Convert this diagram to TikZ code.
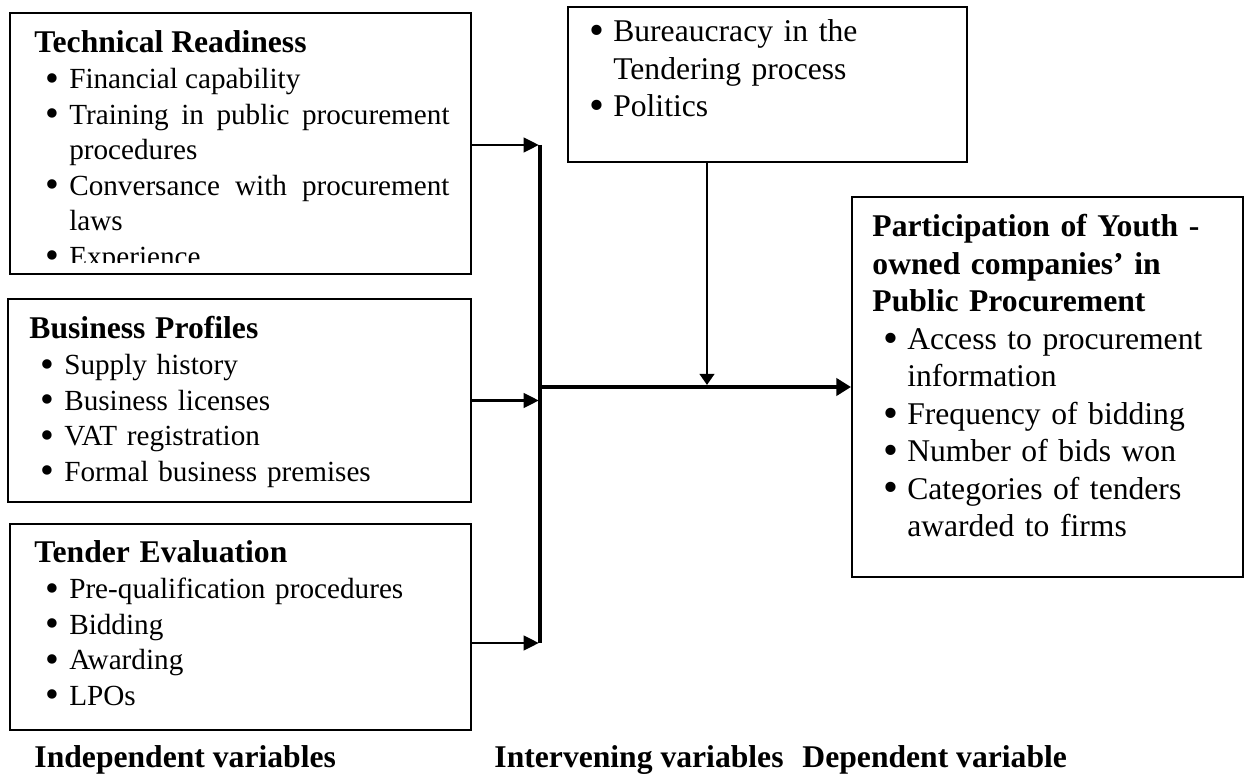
\documentclass[tikz,border=0pt]{standalone}
\usepackage{fontspec}
\setmainfont{Liberation Serif}
\usepackage{graphicx}
\usepackage{tikz}
\usetikzlibrary{arrows.meta, positioning, fit}

\newlength{\itemhang}\setlength{\itemhang}{14.3pt}
\newlength{\bulletgap}\setlength{\bulletgap}{4.6pt}
\newcommand{\dotmark}{\smash{\raisebox{-1.1pt}{\scalebox{1.35}{\textbullet}}}}
\newcommand{\bitem}[1]{\hangindent=\itemhang\hangafter=1%
  \hspace*{\bulletgap}\makebox[\dimexpr\itemhang-\bulletgap\relax][l]{\dotmark}#1\par}
\newcommand{\boxhead}[1]{{\fontsize{13}{15.4}\selectfont\bfseries #1\par}}

\begin{document}
\begin{tikzpicture}[x=0.411pt, y=-0.411pt,
    panel/.style={rectangle, draw, line width=0.8pt, inner sep=0pt},
    body/.style={anchor=base west, inner sep=0pt, align=left, font=\fontsize{12}{14.6}\selectfont},
    big/.style={body, font=\fontsize{13}{15.4}\selectfont},
    feed/.style={-{Triangle[length=6.2pt, width=6pt]}, line width=0.85pt, shorten >=0.5pt},
    trunk/.style={line width=1.4pt},
    flow/.style={-{Triangle[length=6pt, width=7pt]}, line width=2pt},
    push/.style={-{Triangle[length=4.6pt, width=6pt]}, line width=1.1pt},
    footer/.style={anchor=base west, inner sep=0pt, font=\fontsize{13}{15.4}\selectfont\bfseries}
  ]
    \useasboundingbox (0,0) rectangle (1245,775);

    % independent variables
    \node[panel, fit={(10,13) (471,274)}]  (tech)   {};
    \node[panel, fit={(8,299) (471,502)}]  (bus)    {};
    \node[panel, fit={(10,524) (471,730)}] (tender) {};

    \begin{scope}
      \clip (10,13) rectangle (471,263);
      \node[body, align=justify, text width=170.6pt] (techtxt) at (34,53) {%
        \boxhead{Technical Readiness}%
        \bitem{Financial capability}%
        \bitem{Training in public procurement\linebreak procedures}%
        \bitem{Conversance with procurement\linebreak laws}%
        \bitem{Experience}};
    \end{scope}

    \node[body, text width=180pt] (bustxt) at (29,339) {%
      \boxhead{Business Profiles}%
      \bitem{Supply history}%
      \bitem{Business licenses}%
      \bitem{VAT registration}%
      \bitem{Formal business premises}};

    \node[body, text width=180pt] (tendertxt) at (34,563) {%
      \boxhead{Tender Evaluation}%
      \bitem{Pre-qualification procedures}%
      \bitem{Bidding}%
      \bitem{Awarding}%
      \bitem{LPOs}};

    % intervening variables
    \node[panel, fit={(568,7) (967,162)}] (inter) {};
    \node[big, text width=150pt] (intertxt) at (578,42) {%
      \bitem{Bureaucracy in the\newline Tendering process}%
      \bitem{Politics}};

    % dependent variable
    \node[panel, fit={(852,197) (1243,577)}] (dep) {};
    \node[big, text width=150pt] (deptxt) at (872,237) {%
      \boxhead{Participation of Youth -\\owned companies’ in\\Public Procurement}%
      \bitem{Access to procurement\newline information}%
      \bitem{Frequency of bidding}%
      \bitem{Number of bids won}%
      \bitem{Categories of tenders\newline awarded to firms}};

    % connectors
    \coordinate (bartop)   at (540,145);
    \coordinate (barbot)   at (540,643);
    \coordinate (junction) at (540,387);
    \coordinate (drop)     at (707,385);

    \draw[trunk] (bartop) -- (barbot);
    \draw[feed] (tech.east |- bartop) -- (bartop);
    \draw[feed] (bus.east) -- (bus.east -| bartop);
    \draw[feed] (tender.east |- barbot) -- (barbot);
    \draw[flow] (junction) -- (dep.west);
    \draw[push] (inter.south -| drop) -- (drop);

    % column captions
    \node[footer] (indep)  at (34,767)  {Independent variables};
    \node[footer] (interv) at (494,767) {Intervening variables};
    \node[footer] (depv)   at (802,767) {Dependent variable};
  \end{tikzpicture}
\end{document}
